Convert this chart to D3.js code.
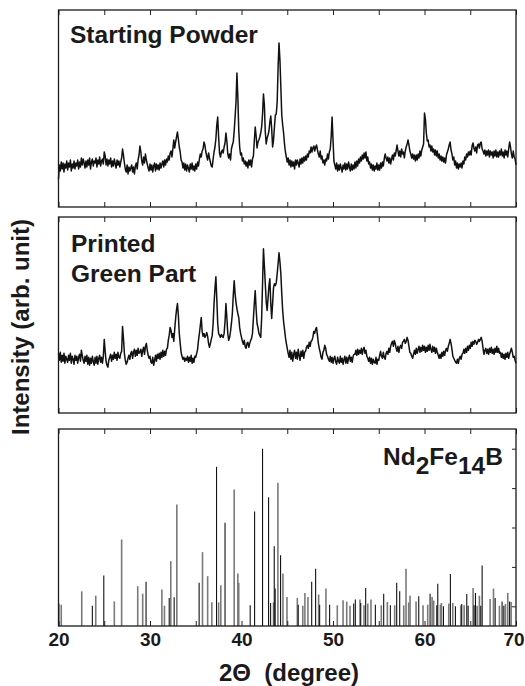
<!DOCTYPE html>
<html>
<head>
<meta charset="utf-8">
<script src="https://d3js.org/d3.v7.min.js"></script>
<style>
  body { margin: 0; background: #fff; }
  svg text { font-family: "Liberation Sans", Arial, sans-serif; font-weight: bold; fill: #1a1a1a; white-space: pre; }
</style>
</head>
<body>
<div id="chart"></div>
<script>
// scan grid: 20 to 70 degree, step 0.1
var scanStart = 20, scanStep = 0.1;

// Starting Powder, one row per degree
var powderCounts = [
  28,42,36,45,38,44,35,43,39,46,
  37,44,40,47,36,43,39,46,38,44,
  41,47,38,45,40,49,42,48,44,39,
  46,40,47,42,49,38,45,48,41,46,
  44,49,40,47,43,50,41,46,48,43,
  55,51,42,48,41,47,43,49,40,46,
  41,48,43,39,47,42,46,40,45,49,
  58,52,44,38,35,42,33,40,36,39,
  42,35,40,33,41,44,38,47,52,61,
  55,46,42,50,44,53,47,43,39,36,
  43,37,42,35,41,44,36,43,38,42,
  37,44,39,43,46,40,47,42,48,45,
  51,47,54,56,50,58,67,59,65,70,
  75,68,60,55,47,45,39,44,37,43,
  36,42,39,35,43,38,44,37,41,36,
  43,38,45,41,48,53,50,56,58,65,
  62,55,51,47,54,49,45,41,40,48,
  55,60,68,82,90,70,54,50,55,57,
  54,60,64,74,66,53,49,53,47,58,
  62,65,76,90,105,134,110,77,60,52,
  54,46,49,43,46,41,45,39,47,42,
  47,40,48,51,66,80,71,59,65,67,
  70,74,80,93,113,102,75,63,69,72,
  76,85,91,78,60,67,80,92,93,105,
  140,164,147,120,92,82,74,63,55,50,
  45,49,42,47,40,46,41,45,38,47,
  42,47,44,40,48,43,49,44,50,46,
  51,47,53,50,56,54,60,55,59,61,
  56,60,62,57,53,50,56,48,51,44,
  47,42,48,46,53,48,55,58,70,90,
  68,46,42,38,44,36,42,37,43,39,
  35,42,38,44,37,43,38,45,40,36,
  43,37,42,38,45,39,46,41,48,44,
  50,46,52,48,54,49,55,46,50,43,
  45,39,43,37,42,36,41,38,44,37,
  42,37,44,39,45,41,48,53,49,46,
  50,44,49,43,48,52,47,54,51,56,
  62,56,51,56,50,58,53,55,49,56,
  60,63,67,62,56,53,49,53,48,52,
  46,52,47,53,49,56,51,57,60,63,
  94,88,74,66,67,60,62,56,61,55,
  58,52,57,51,56,49,53,47,51,46,
  50,45,49,44,52,55,58,62,65,57,
  53,47,50,42,46,39,44,38,43,40,
  44,39,46,43,50,47,53,50,55,52,
  56,52,61,64,59,56,60,54,62,63,
  59,64,65,58,56,53,57,51,56,52,
  57,50,56,52,55,49,56,51,57,50,
  55,50,56,52,58,51,55,49,57,52,
  56,50,58,65,60,53,49,56,50,48,
  42
];

// Printed Green Part
var greenCounts = [
  60,53,61,51,58,52,60,50,57,54,
  51,58,53,60,50,57,54,49,58,53,
  57,50,56,59,52,63,58,53,50,57,
  52,58,49,56,48,55,50,57,52,48,
  56,50,57,49,55,58,51,56,50,57,
  74,62,52,48,46,53,56,59,52,58,
  54,61,55,59,53,61,56,55,60,62,
  87,75,60,53,49,51,55,58,54,60,
  62,55,61,64,57,63,58,65,60,61,
  64,57,63,66,59,67,70,63,58,55,
  57,51,50,56,48,53,58,52,59,55,
  60,54,61,56,63,57,62,58,64,65,
  73,78,86,83,76,80,72,84,95,104,
  110,98,80,70,61,57,54,56,52,55,
  53,57,51,56,52,58,50,55,51,57,
  56,60,64,73,80,88,96,82,77,80,
  76,78,81,77,70,66,70,74,78,90,
  110,125,137,115,90,80,78,76,79,77,
  76,80,92,110,96,80,73,76,82,90,
  100,118,133,120,111,105,100,96,86,80,
  76,72,69,73,67,65,70,71,66,70,
  73,75,80,95,110,123,104,90,86,80,
  78,76,95,130,165,148,130,112,103,115,
  128,135,110,95,110,126,130,128,131,140,
  150,161,152,140,120,103,92,84,76,70,
  65,60,56,63,54,61,52,59,63,55,
  61,54,64,58,53,62,57,63,55,61,
  62,66,68,65,71,67,72,73,76,82,
  80,84,86,78,70,65,61,56,54,61,
  63,68,65,59,57,54,52,57,51,56,
  50,55,57,51,49,56,52,50,57,51,
  55,49,54,57,50,56,50,55,58,52,
  56,51,57,59,59,63,58,64,59,63,
  60,65,59,64,66,60,63,57,55,52,
  56,50,55,49,54,51,50,56,49,54,
  53,58,62,57,55,61,56,54,60,62,
  59,65,61,67,70,72,67,73,70,65,
  62,67,61,66,68,65,71,72,74,70,
  72,76,73,67,61,60,57,55,59,63,
  59,65,60,64,67,61,66,62,68,63,
  67,61,66,62,68,63,69,64,61,67,
  62,66,60,65,61,58,55,59,55,61,
  57,62,58,63,65,62,67,70,74,70,
  64,57,55,53,51,50,54,50,55,57,
  54,59,60,64,60,65,61,67,63,68,
  65,71,67,72,69,73,72,69,71,74,
  72,74,76,72,65,59,63,65,60,64,
  59,65,61,66,60,64,59,65,61,67,
  61,65,60,61,56,60,55,59,54,60,
  56,61,55,59,62,65,61,56,57,53,
  50
];

// Nd2Fe14B reference lines, two sets
var refAPos = [23.7,24.95,29.57,32.1,32.64,35.37,37.27,38.2,40.95,41.43,42.3,42.96,43.18,43.58,43.68,44.27,
  46.2,47.67,48.1,48.54,49.63,52.26,52.44,53.03,53.57,54.63,55.54,56.27,56.96,57.29,59.37,60.61,61.34,61.45,
  62.07,62.83,63.38,64.07,64.62,64.77,65.42,65.57,66.15,66.3,67.72,68.48,68.67,69.3];
var refAInt = [20.3,35.6,32.5,24.2,24.6,31.9,90.8,62.4,20.5,68.1,100,75.3,21.7,50.5,29.0,45.9,
  20.8,32.5,39.0,20.8,20.8,21.4,23.4,21.7,29.3,20.8,26.4,20.5,31.9,27.6,25.1,26.4,20.5,31.5,
  20.0,36.4,20.0,21.2,26.3,20.3,20.5,26.8,20.3,40.7,24.2,22.5,20.3,22.5];
var refBPos = [20.05,20.3,22.54,24.07,26.1,26.9,28.66,29.2,31.3,31.58,32.27,32.93,35.74,36.3,36.76,37.5,37.74,
  39.2,39.6,39.7,43.5,43.98,44.53,44.97,46.1,46.7,46.93,47.26,48.43,49.23,50.47,51.1,51.5,51.86,52.95,53.39,
  53.8,54.15,55.28,55.94,56.74,57.73,57.98,58.27,58.42,59.08,59.84,60.35,60.83,61.0,61.74,61.85,62.65,63.09,
  63.96,64.33,65.31,65.75,66.0,67.17,67.54,68.19,68.85,69.1,69.47];
var refBInt = [21.4,20.8,27.6,25.4,22.5,53.9,30.2,26.4,28.5,20.3,42.9,71.7,47.5,35.3,22.0,22.0,30.7,
  79.3,36.6,31.9,22.0,82.7,36.6,24.7,24.2,20.3,26.8,24.7,26.0,29.0,20.5,23.1,22.4,20.3,23.4,20.5,
  21.4,23.4,20.5,22.2,20.5,20.5,39.0,22.0,25.4,22.4,20.5,20.8,24.7,22.9,20.8,21.7,21.4,21.7,
  20.5,20.5,29.3,20.3,25.4,23.7,29.0,20.3,21.2,26.8,22.2];

var xTicks = [20,25,30,35,40,45,50,55,60,65,70];
var xTickLabels = [20,30,40,50,60,70];
var refTicks = [20,40,60,80,100];

var W = 525, H = 686;
var left = 58.5, right = 516;
var panels = [
  {top: 10, bottom: 207},
  {top: 217, bottom: 413},
  {top: 429, bottom: 626}
];

var svg = d3.select("#chart").append("svg").attr("width", W).attr("height", H);

var x = d3.scaleLinear().domain([20, 70]).range([left, right]);

function frame(p) {
  var top = svg.append("g").attr("transform", "translate(0," + p.top + ")")
    .call(d3.axisTop(x).tickValues(xTicks).tickSize(-5).tickFormat(""));
  var bot = svg.append("g").attr("transform", "translate(0," + p.bottom + ")")
    .call(d3.axisBottom(x).tickValues(xTicks).tickSize(-5).tickFormat(""));
  top.select(".domain").remove();
  bot.select(".domain").remove();
  svg.selectAll(".tick line").attr("stroke", "#222");
  svg.append("rect")
    .attr("x", left).attr("y", p.top)
    .attr("width", right - left).attr("height", p.bottom - p.top)
    .attr("fill", "none").attr("stroke", "#1a1a1a").attr("stroke-width", 1.3);
}

// spectra
var spectra = [powderCounts, greenCounts];
spectra.forEach(function (counts, k) {
  var p = panels[k];
  var y = d3.scaleLinear().domain([0, 197]).range([p.bottom, p.top]);
  var line = d3.line()
    .x(function (d, i) { return x(scanStart + i * scanStep); })
    .y(function (d) { return y(d); });
  svg.append("path")
    .datum(counts)
    .attr("d", line)
    .attr("fill", "none")
    .attr("stroke", "#111")
    .attr("stroke-width", 1.5)
    .attr("stroke-linejoin", "round");
  frame(p);
});

// reference sticks
var p3 = panels[2];
var yRef = d3.scaleLinear().domain([10, 110]).range([p3.bottom, p3.top]);

function sticks(pos, inten, color, wid) {
  svg.append("g").selectAll("line")
    .data(pos)
    .enter()
    .append("line")
    .attr("x1", function (d) { return x(d); })
    .attr("x2", function (d) { return x(d); })
    .attr("y1", yRef(10))
    .attr("y2", function (d, i) { return yRef(inten[i]); })
    .attr("stroke", color)
    .attr("stroke-width", wid);
}
sticks(refBPos, refBInt, "#7a7a7a", 1.6);
sticks(refAPos, refAInt, "#111", 1.1);

frame(p3);

// right side ticks on the reference panel
var ra = svg.append("g").attr("transform", "translate(" + right + ",0)")
  .call(d3.axisLeft(yRef).tickValues(refTicks).tickSize(4).tickFormat(""));
ra.select(".domain").remove();
ra.selectAll("line").attr("stroke", "#222");

// x labels
var xa = svg.append("g").attr("transform", "translate(0," + p3.bottom + ")")
  .call(d3.axisBottom(x).tickValues(xTickLabels).tickSize(0).tickPadding(7));
xa.select(".domain").remove();
xa.selectAll("text").style("font-size", "19px").attr("fill", "#1a1a1a")
  .attr("dx", function (d) { return d === 70 ? -2.5 : 0; });

// panel labels
svg.append("text").attr("x", 70).attr("y", 43).style("font-size", "24.5px").text("Starting Powder");
svg.append("text").attr("x", 71).attr("y", 252).style("font-size", "24.5px").text("Printed");
svg.append("text").attr("x", 71).attr("y", 282).style("font-size", "24.5px").text("Green Part");

var nd = svg.append("text").attr("x", 383).attr("y", 465).style("font-size", "24.5px");
nd.append("tspan").text("Nd");
nd.append("tspan").attr("dy", 9).text("2");
nd.append("tspan").attr("dy", -9).text("Fe");
nd.append("tspan").attr("dy", 9).text("14");
nd.append("tspan").attr("dy", -9).text("B");

// axis titles
svg.append("text")
  .attr("x", 289).attr("y", 681)
  .attr("text-anchor", "middle")
  .style("font-size", "24px")
  .text("2\u0398  (degree)");

svg.append("text")
  .attr("transform", "translate(29,327) rotate(-90)")
  .attr("text-anchor", "middle")
  .style("font-size", "24px")
  .text("Intensity (arb. unit)");
</script>
</body>
</html>
